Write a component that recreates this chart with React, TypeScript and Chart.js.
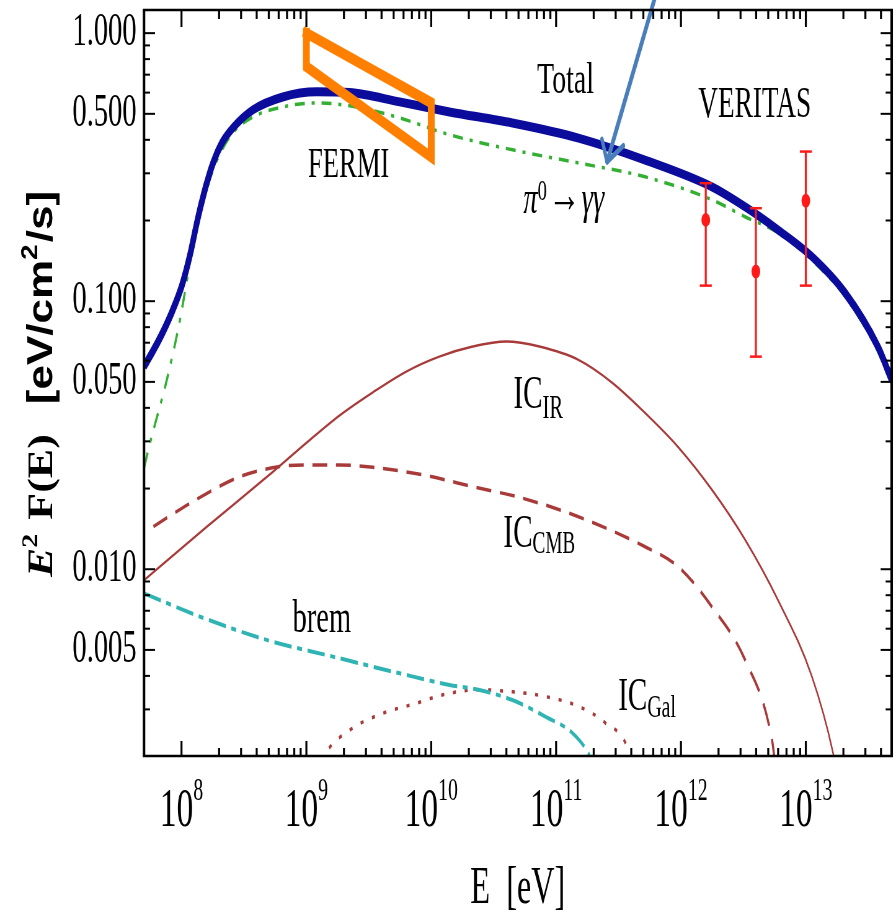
import { useEffect, useRef } from 'react';
import { Chart, registerables } from 'chart.js';

Chart.register(...registerables);

// ---------- values (E in eV, E^2 F(E) in eV/cm^2/s) ----------
const TOTAL_E = [5.01e7, 6.73e7, 8.39e7, 1.01e8, 1.17e8, 1.355e8, 1.57e8, 1.79e8, 2.11e8, 2.58e8, 3.73e8, 6.47e8, 1.21e9, 2.22e9, 5.58e9, 1.4e10, 4.47e10, 1.51e11, 5.16e11, 1.77e12, 3.26e12, 5.98e12, 1.12e13, 2.06e13, 3.78e13, 4.87e13];
const TOTAL_F = [0.0569, 0.073, 0.0912, 0.115, 0.149, 0.2047, 0.2693, 0.328, 0.3897, 0.443, 0.517, 0.578, 0.604, 0.6, 0.554, 0.508, 0.462, 0.406, 0.336, 0.267, 0.225, 0.1846, 0.1466, 0.1075, 0.0676, 0.0508];

const PI0_E = [5.01e7, 5.6e7, 7.62e7, 9.72e7, 1.236e8, 1.406e8, 1.6e8, 1.82e8, 2.11e8, 2.58e8, 3.75e8, 6.52e8, 1.2e9, 2.22e9, 5.58e9, 1.35e10, 4.47e10, 1.51e11, 5.16e11, 1.77e12, 3.26e12, 5.98e12, 1.12e13, 2.06e13, 3.78e13, 4.87e13];
const PI0_F = [0.0239, 0.0296, 0.0508, 0.0851, 0.1622, 0.2154, 0.2647, 0.3144, 0.3669, 0.425, 0.487, 0.531, 0.549, 0.5355, 0.483, 0.42, 0.367, 0.328, 0.291, 0.239, 0.2065, 0.18, 0.142, 0.104, 0.065, 0.049];

const IC_IR_E = [5.01e7, 1.59e8, 5.42e8, 1.0e9, 1.85e9, 3.41e9, 6.31e9, 1.16e10, 2.15e10, 3.98e10, 7.35e10, 1.51e11, 2.82e11, 5.16e11, 9.48e11, 1.77e12, 3.26e12, 5.98e12, 1.12e13, 1.65e13, 1.78e13];
const IC_IR_F = [0.0091, 0.01438, 0.02313, 0.0296, 0.0375, 0.0457, 0.05462, 0.0621, 0.0677, 0.0707, 0.0677, 0.0604, 0.0496, 0.0383, 0.0286, 0.0198, 0.0129, 0.00768, 0.00397, 0.00207, 0.0017];

const IC_CMB_E = [5.96e7, 1.17e8, 2.94e8, 6.13e8, 1.0e9, 1.85e9, 3.41e9, 8.57e9, 2.15e10, 5.4e10, 1.51e11, 5.16e11, 9.48e11, 1.77e12, 3.26e12, 5.36e12, 5.66e12];
const IC_CMB_F = [0.01442, 0.01762, 0.02215, 0.02415, 0.0245, 0.0245, 0.024, 0.02249, 0.02033, 0.0184, 0.0157, 0.01213, 0.01023, 0.00724, 0.00459, 0.00231, 0.0019];

const BREM_E = [5.01e7, 1.41e8, 4.8e8, 1.63e9, 5.58e9, 1.4e10, 2.39e10, 4.47e10, 8.2e10, 1.35e11, 1.81e11, 1.95e11];
const BREM_F = [0.00813, 0.00665, 0.00545, 0.00472, 0.00409, 0.0037, 0.00355, 0.00325, 0.00282, 0.00245, 0.00206, 0.0019];

const IC_GAL_E = [1.32e9, 1.4e9, 2.22e9, 4.1e9, 7.59e9, 1.24e10, 2.39e10, 4.47e10, 8.2e10, 1.51e11, 2.48e11, 3.78e11, 3.98e11];
const IC_GAL_F = [0.0019, 0.00203, 0.00251, 0.0029, 0.00316, 0.0034, 0.00355, 0.00349, 0.00335, 0.00308, 0.00267, 0.00212, 0.0019];

const VERITAS_E = [1.58e12, 3.98e12, 1.0e13];
const VERITAS_F = [0.201, 0.129, 0.237];
const VERITAS_LO = [0.1143, 0.0621, 0.1143];
const VERITAS_HI = [0.2756, 0.2223, 0.3616];

const FERMI_E = [1e9, 1e10, 1e10, 1e9, 1e9];
const FERMI_F = [1.0, 0.55, 0.345, 0.75, 1.0];

const ARROW_E = [6.45e11, 2.56e11];
const ARROW_F = [1.45, 0.331];

// ---------- axes ----------
const X_MIN = 5.01e7;
const X_MAX = 4.87e13;
const Y_MIN = 0.00201;
const Y_MAX = 1.22;
const X_TICK_EXPONENTS = [8, 9, 10, 11, 12, 13];
const X_MINOR_FROM = 1e8;
const Y_TICKS = [0.005, 0.01, 0.05, 0.1, 0.5, 1];
const MINOR_MULTIPLES = [2, 3, 4, 5, 6, 7, 8, 9];

// ---------- layout / style ----------
const SQUISH = 0.62; // the figure is horizontally compressed
const CSS_W = 896;
const CSS_H = 913;
const W = Math.round(CSS_W / SQUISH);
const H = CSS_H;
const PLOT_LEFT = 144 / SQUISH;
const PLOT_RIGHT = 893 / SQUISH;
const PLOT_TOP = 10;
const PLOT_BOTTOM = 756;

const SERIF = '"Liberation Serif", "Times New Roman", serif';
const SANS = '"Liberation Sans", Arial, sans-serif';

const C_TOTAL = '#0c0c9c';
const C_PI0 = '#33b033';
const C_IC = '#a83a3a';
const C_BREM = '#2fb3b3';
const C_FERMI = '#ff8000';
const C_ARROW = '#4a7ebb';
const C_POINT = '#ff1a1a';

type Run = { t: string; size: number; style?: string; weight?: string; family?: string; dy?: number; gap?: number };

const ANNOTATIONS: { E: number; F: number; align: 'left' | 'center'; runs: Run[] }[] = [
  { E: 1.19e11, F: 0.599, align: 'center', runs: [{ t: 'Total', size: 45 }] },
  { E: 3.9e12, F: 0.487, align: 'center', runs: [{ t: 'VERITAS', size: 44 }] },
  { E: 2.18e9, F: 0.291, align: 'center', runs: [{ t: 'FERMI', size: 43 }] },
  {
    E: 5.47e10, F: 0.2136, align: 'left',
    runs: [
      { t: 'π', size: 46, style: 'italic' },
      { t: '0', size: 30, dy: -13, gap: 2 },
      { t: '→', size: 52, dy: -1, gap: 2 },
      { t: 'γγ', size: 46, style: 'italic' },
    ],
  },
  { E: 4.55e10, F: 0.04, align: 'left', runs: [{ t: 'IC', size: 47 }, { t: 'IR', size: 33, dy: 10 }] },
  { E: 3.78e10, F: 0.0121, align: 'left', runs: [{ t: 'IC', size: 47 }, { t: 'CMB', size: 31, dy: 6 }] },
  { E: 3.14e11, F: 0.00299, align: 'left', runs: [{ t: 'IC', size: 47 }, { t: 'Gal', size: 32, dy: 7 }] },
  { E: 1.33e9, F: 0.00583, align: 'center', runs: [{ t: 'brem', size: 46 }] },
];

const Y_TITLE: Run[] = [
  { t: 'E', size: 44, style: 'italic', weight: 'bold' },
  { t: '2', size: 28, weight: 'bold', dy: -18, gap: 14 },
  { t: 'F(E)', size: 44, weight: 'bold', gap: 30 },
  { t: '[eV/cm', size: 44, weight: 'bold', family: SANS },
  { t: '2', size: 28, weight: 'bold', family: SANS, dy: -18, gap: 2 },
  { t: '/s]', size: 44, weight: 'bold', family: SANS },
];
const X_TITLE = 'E  [eV]';

function fontOf(r: Run) {
  return `${r.style || 'normal'} ${r.weight || 'normal'} ${r.size}px ${r.family || SERIF}`;
}
function runsWidth(ctx: CanvasRenderingContext2D, runs: Run[]) {
  let w = 0;
  runs.forEach((r, i) => {
    ctx.font = fontOf(r);
    w += ctx.measureText(r.t).width + (i < runs.length - 1 ? r.gap || 0 : 0);
  });
  return w;
}
function drawRuns(ctx: CanvasRenderingContext2D, runs: Run[], x: number, y: number) {
  let cx = x;
  for (const r of runs) {
    ctx.font = fontOf(r);
    ctx.fillText(r.t, cx, y + (r.dy || 0));
    cx += ctx.measureText(r.t).width + (r.gap || 0);
  }
}
function seg(ctx: CanvasRenderingContext2D, x1: number, y1: number, x2: number, y2: number) {
  ctx.beginPath();
  ctx.moveTo(x1, y1);
  ctx.lineTo(x2, y2);
  ctx.stroke();
}

const pts = (xs: number[], ys: number[]) => xs.map((e, i) => ({ x: e, y: ys[i] }));

const decorPlugin = {
  id: 'decor',
  afterDraw(chart: any) {
    const { ctx, chartArea: a } = chart;
    const xs = chart.scales.x;
    const ys = chart.scales.y;
    const k = 1 / SQUISH;
    ctx.save();

    // error bars of VERITAS points
    ctx.strokeStyle = C_POINT;
    VERITAS_E.forEach((e: number, i: number) => {
      const px = xs.getPixelForValue(e);
      const y1 = ys.getPixelForValue(VERITAS_HI[i]);
      const y2 = ys.getPixelForValue(VERITAS_LO[i]);
      ctx.lineWidth = 2 * k;
      seg(ctx, px, y1, px, y2);
      ctx.lineWidth = 2.5;
      seg(ctx, px - 6 * k, y1, px + 6 * k, y1);
      seg(ctx, px - 6 * k, y2, px + 6 * k, y2);
    });

    // arrowhead on the annotation arrow
    const meta = chart.getDatasetMeta(chart.data.datasets.findIndex((d: any) => d.label === 'arrow'));
    if (meta && meta.data.length === 2) {
      const tail = meta.data[0];
      const tip = meta.data[1];
      const dx = (tail.x - tip.x) * SQUISH;
      const dy = tail.y - tip.y;
      const len = Math.hypot(dx, dy);
      const ux = dx / len;
      const uy = dy / len;
      const L = 23;
      const ang = (29 * Math.PI) / 180;
      ctx.strokeStyle = C_ARROW;
      ctx.lineWidth = 5.5;
      ctx.lineCap = 'round';
      for (const s of [1, -1]) {
        const c = Math.cos(ang * s);
        const sn = Math.sin(ang * s);
        const rx = ux * c - uy * sn;
        const ry = ux * sn + uy * c;
        seg(ctx, tip.x, tip.y, tip.x + (rx * L) / SQUISH, tip.y + ry * L);
      }
      ctx.lineCap = 'butt';
    }

    // frame
    ctx.strokeStyle = '#000';
    ctx.lineWidth = 2.5;
    seg(ctx, a.left - 1.25 * k, a.top, a.right + 1.25 * k, a.top);
    seg(ctx, a.left - 1.25 * k, a.bottom, a.right + 1.25 * k, a.bottom);
    ctx.lineWidth = 2.5 * k;
    seg(ctx, a.left, a.top, a.left, a.bottom);
    seg(ctx, a.right, a.top, a.right, a.bottom);

    // x ticks (inward, bottom and top)
    ctx.lineWidth = 2 * k;
    for (let n = 7; n <= 13; n++) {
      for (const m of [1, ...MINOR_MULTIPLES]) {
        const v = m * Math.pow(10, n);
        if (v < X_MINOR_FROM || v > X_MAX) continue;
        const px = xs.getPixelForValue(v);
        const L = m === 1 ? 15 : 8;
        seg(ctx, px, a.bottom, px, a.bottom - L);
        seg(ctx, px, a.top, px, a.top + (m === 1 ? 17 : 9));
      }
    }
    // y ticks (inward, left and right)
    ctx.lineWidth = 2;
    for (let n = -3; n <= 0; n++) {
      for (const m of [1, ...MINOR_MULTIPLES]) {
        const v = m * Math.pow(10, n);
        if (v < Y_MIN || v > Y_MAX) continue;
        const major = Y_TICKS.some((t) => Math.abs(t - v) / t < 1e-6);
        const py = ys.getPixelForValue(v);
        const L = (major ? 11 : 6) * k;
        seg(ctx, a.left, py, a.left + L, py);
        seg(ctx, a.right, py, a.right - L, py);
      }
    }

    ctx.fillStyle = '#000';
    ctx.textAlign = 'left';
    ctx.textBaseline = 'alphabetic';

    // x tick labels 10^n
    for (const ex of X_TICK_EXPONENTS) {
      const px = xs.getPixelForValue(Math.pow(10, ex));
      const runs: Run[] = [{ t: '10', size: 54 }, { t: String(ex), size: 32, dy: -26 }];
      const w = runsWidth(ctx, runs);
      drawRuns(ctx, runs, px - w / 2, 826);
    }

    // x title
    ctx.font = `52px ${SERIF}`;
    ctx.textAlign = 'center';
    ctx.fillText(X_TITLE, (a.left + a.right) / 2, 903);
    ctx.textAlign = 'left';

    // y title (rotated)
    {
      const w = runsWidth(ctx, Y_TITLE);
      ctx.save();
      ctx.translate(52 / SQUISH, 384);
      ctx.rotate(-Math.PI / 2);
      ctx.scale(1, 1.3);
      drawRuns(ctx, Y_TITLE, -w / 2, 0);
      ctx.restore();
    }

    // annotations inside the plot
    for (const an of ANNOTATIONS) {
      const px = xs.getPixelForValue(an.E);
      const py = ys.getPixelForValue(an.F);
      const w = runsWidth(ctx, an.runs);
      drawRuns(ctx, an.runs, an.align === 'center' ? px - w / 2 : px, py);
    }

    ctx.restore();
  },
};

export default function App() {
  const ref = useRef<HTMLCanvasElement>(null);
  useEffect(() => {
    const canvas = ref.current;
    if (!canvas) return;
    const curve = (label: string, xs: number[], ys: number[], color: string, width: number, dash: number[], order: number) => ({
      label,
      data: pts(xs, ys),
      borderColor: color,
      backgroundColor: color,
      borderWidth: width,
      borderDash: dash,
      pointRadius: 0,
      cubicInterpolationMode: 'monotone',
      fill: false,
      clip: 0,
      order,
    });
    const chart = new Chart(canvas, {
      type: 'line',
      data: {
        datasets: [
          {
            label: 'arrow',
            data: pts(ARROW_E, ARROW_F),
            borderColor: C_ARROW,
            borderWidth: 6,
            pointRadius: 0,
            tension: 0,
            clip: false,
            order: 0,
          },
          {
            label: 'VERITAS',
            data: pts(VERITAS_E, VERITAS_F),
            showLine: false,
            pointRadius: 7,
            pointBorderWidth: 0,
            pointBackgroundColor: C_POINT,
            borderColor: C_POINT,
            order: 1,
          },
          {
            label: 'FERMI',
            data: pts(FERMI_E, FERMI_F),
            borderColor: C_FERMI,
            borderWidth: 11,
            borderJoinStyle: 'miter',
            borderCapStyle: 'square',
            pointRadius: 0,
            tension: 0,
            clip: false,
            order: 2,
          },
          curve('Total', TOTAL_E, TOTAL_F, C_TOTAL, 9, [], 3),
          curve('pi0', PI0_E, PI0_F, C_PI0, 3.5, [16, 11, 5, 11], 4),
          curve('IC_IR', IC_IR_E, IC_IR_F, C_IC, 2.5, [], 5),
          curve('IC_CMB', IC_CMB_E, IC_CMB_F, C_IC, 3.5, [24, 14], 6),
          curve('brem', BREM_E, BREM_F, C_BREM, 4, [28, 9, 8, 9], 7),
          curve('IC_Gal', IC_GAL_E, IC_GAL_F, C_IC, 3.5, [5, 14], 8),
        ] as any,
      },
      options: {
        responsive: false,
        animation: false,
        devicePixelRatio: 1,
        events: [],
        layout: { padding: { left: 0, right: W - PLOT_RIGHT, top: PLOT_TOP, bottom: 0 } },
        plugins: { legend: { display: false }, tooltip: { enabled: false }, title: { display: false } },
        scales: {
          x: {
            type: 'logarithmic',
            min: X_MIN,
            max: X_MAX,
            bounds: 'data',
            grid: { display: false, drawTicks: false },
            border: { display: false },
            ticks: { display: false },
            afterFit: (s: any) => {
              s.height = H - PLOT_BOTTOM;
              s.paddingLeft = 0;
              s.paddingRight = 0;
              s.paddingTop = 0;
              s.paddingBottom = 0;
            },
          },
          y: {
            type: 'logarithmic',
            min: Y_MIN,
            max: Y_MAX,
            bounds: 'data',
            grid: { display: false, drawTicks: false },
            border: { display: false },
            ticks: {
              display: true,
              autoSkip: false,
              padding: 12,
              color: '#000',
              font: { family: SERIF, size: 46 },
              callback: (v: any) => Number(v).toFixed(3),
            },
            afterBuildTicks: (s: any) => {
              s.ticks = Y_TICKS.map((v) => ({ value: v }));
            },
            afterFit: (s: any) => {
              s.width = PLOT_LEFT;
              s.paddingTop = 0;
              s.paddingBottom = 0;
              s.paddingLeft = 0;
              s.paddingRight = 0;
            },
          },
        },
      } as any,
      plugins: [decorPlugin],
    });
    return () => chart.destroy();
  }, []);

  return (
    <div style={{ position: 'absolute', left: 0, top: 0, width: CSS_W, height: CSS_H, background: '#fff', overflow: 'hidden' }}>
      <canvas ref={ref} width={W} height={H} style={{ width: CSS_W, height: CSS_H, display: 'block' }} />
    </div>
  );
}
